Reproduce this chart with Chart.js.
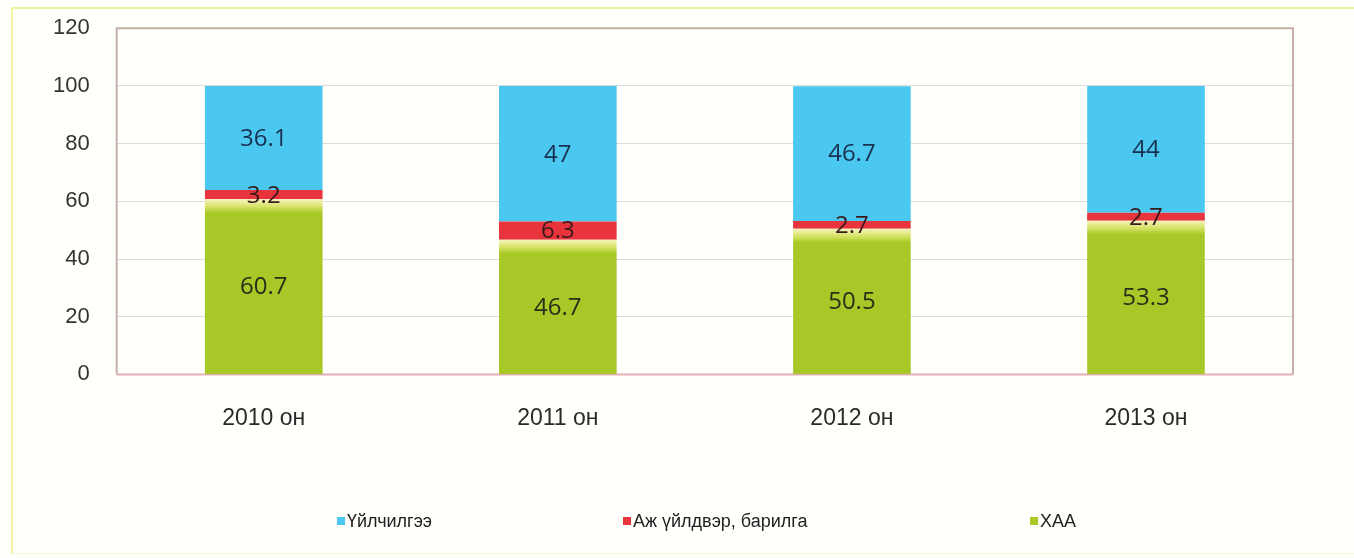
<!DOCTYPE html>
<html>
<head>
<meta charset="utf-8">
<script src="https://cdn.jsdelivr.net/npm/chart.js@4/dist/chart.umd.min.js"></script>
<style>
  html, body { margin: 0; padding: 0; background: #fffffc; }
  #wrap { position: relative; width: 1354px; height: 558px; }
  #frame { position: absolute; left: 11px; top: 7px; right: 0; bottom: 4px;
           border-left: 2px solid #f1f3a6; border-top: 2px solid #eef29a; border-bottom: 1px solid #f6f5d8; }
  canvas { position: absolute; left: 0; top: 0; }
</style>
</head>
<body>
<div id="wrap"><div id="frame"></div><canvas id="c" width="1354" height="558"></canvas></div>
<script>
const categories = ["2010 он", "2011 он", "2012 он", "2013 он"];
const haa = [60.7, 46.7, 50.5, 53.3];
const industry = [3.2, 6.3, 2.7, 2.7];
const services = [36.1, 47, 46.7, 44];
const seriesNames = ["ХАА", "Аж үйлдвэр, барилга", "Үйлчилгээ"];
const yTicks = [0, 20, 40, 60, 80, 100, 120];

const COLORS = { haa: "#a7c826", ind: "#e8343c", svc: "#4ac8f0" };
const LABEL_COLORS = { haa: "#26301a", ind: "#3a1a1a", svc: "#1a3052" };

function haaFill(ctx) {
  const chart = ctx.chart;
  const area = chart.chartArea;
  if (!area || ctx.type !== "data") return COLORS.haa;
  const y = chart.scales.y;
  const top = y.getPixelForValue(haa[ctx.dataIndex]);
  const g = chart.ctx.createLinearGradient(0, top, 0, top + 14);
  g.addColorStop(0, "#f6f4c0");
  g.addColorStop(0.55, "#d4e262");
  g.addColorStop(1, COLORS.haa);
  return g;
}

const segLabels = {
  id: "segLabels",
  afterDatasetsDraw(chart) {
    const ctx = chart.ctx;
    const keys = ["haa", "ind", "svc"];
    ctx.save();
    ctx.textAlign = "center";
    ctx.textBaseline = "middle";
    ctx.font = "24px 'Open Sans', 'DejaVu Sans', sans-serif";
    chart.data.datasets.forEach((ds, di) => {
      const meta = chart.getDatasetMeta(di);
      meta.data.forEach((bar, i) => {
        const mid = (bar.y + bar.base) / 2;
        ctx.fillStyle = LABEL_COLORS[keys[di]];
        ctx.fillText(String(ds.data[i]), bar.x, mid + 1);
      });
    });
    ctx.restore();
  }
};

const plotBorder = {
  id: "plotBorder",
  beforeDatasetsDraw(chart) {
    const a = chart.chartArea;
    const ctx = chart.ctx;
    ctx.save();
    ctx.lineWidth = 2;
    ctx.strokeStyle = "#c8b0a8";
    ctx.beginPath();
    ctx.moveTo(a.left, a.bottom);
    ctx.lineTo(a.left, a.top);
    ctx.lineTo(a.right, a.top);
    ctx.lineTo(a.right, a.bottom);
    ctx.stroke();
    ctx.strokeStyle = "#e2b0b4";
    ctx.beginPath();
    ctx.moveTo(a.left, a.bottom);
    ctx.lineTo(a.right, a.bottom);
    ctx.stroke();
    ctx.restore();
  }
};

const customLegend = {
  id: "customLegend",
  afterDraw(chart) {
    const ctx = chart.ctx;
    const order = [2, 1, 0];
    const xs = [337, 623, 1030];
    const y = 522;
    ctx.save();
    ctx.font = "18px 'Liberation Sans', Arial, sans-serif";
    ctx.textBaseline = "middle";
    ctx.textAlign = "left";
    order.forEach((di, k) => {
      const ds = chart.data.datasets[di];
      ctx.fillStyle = ds.legendColor;
      ctx.fillRect(xs[k], y - 5, 8, 8);
      ctx.fillStyle = "#222";
      ctx.fillText(ds.label, xs[k] + 10, y);
    });
    ctx.restore();
  }
};

new Chart(document.getElementById("c"), {
  type: "bar",
  data: {
    labels: categories,
    datasets: [
      { label: seriesNames[0], data: haa, backgroundColor: haaFill, legendColor: COLORS.haa,
        borderWidth: 0, barPercentage: 0.4, categoryPercentage: 1 },
      { label: seriesNames[1], data: industry, backgroundColor: COLORS.ind, legendColor: COLORS.ind,
        borderWidth: 0, barPercentage: 0.4, categoryPercentage: 1 },
      { label: seriesNames[2], data: services, backgroundColor: COLORS.svc, legendColor: COLORS.svc,
        borderWidth: 0, barPercentage: 0.4, categoryPercentage: 1 }
    ]
  },
  options: {
    responsive: false,
    animation: false,
    layout: { padding: { left: 38, right: 61, top: 3, bottom: 96 } },
    plugins: {
      legend: { display: false },
      tooltip: { enabled: false }
    },
    scales: {
      x: {
        stacked: true,
        grid: { display: false, drawTicks: false },
        border: { display: false },
        ticks: { color: "#2a2a2a", padding: 30, font: { size: 23, family: "'Liberation Sans', Arial, sans-serif" } }
      },
      y: {
        stacked: true,
        min: 0, max: 120,
        afterBuildTicks(scale) { scale.ticks = yTicks.map(v => ({ value: v })); },
        grid: { color: "#dcdcdc", lineWidth: 1, drawTicks: true, tickLength: 12, tickColor: "rgba(0,0,0,0)" },
        border: { display: false },
        ticks: { color: "#333", padding: 15, font: { size: 22, family: "'Liberation Sans', Arial, sans-serif" } }
      }
    }
  },
  plugins: [plotBorder, segLabels, customLegend]
});
</script>
</body>
</html>
